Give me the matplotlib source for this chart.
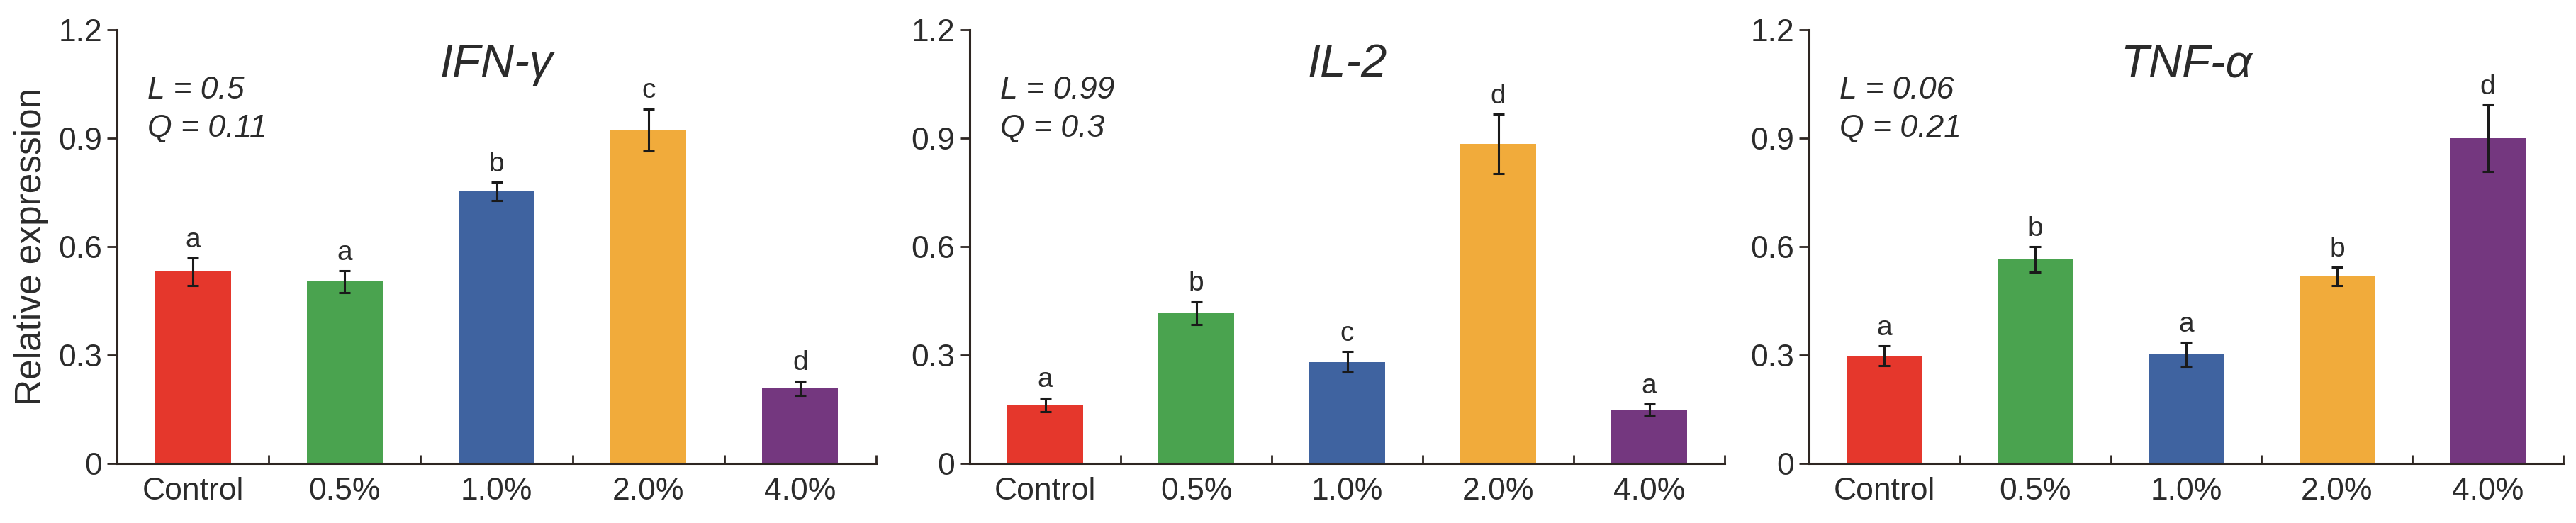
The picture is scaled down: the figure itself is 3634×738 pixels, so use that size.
import numpy as np
import matplotlib.pyplot as plt

plt.rcParams['font.family'] = ['Liberation Sans', 'DejaVu Sans']

groups = ["Control", "0.5%", "1.0%", "2.0%", "4.0%"]
bar_colors = ["#E5372C", "#4AA34F", "#3F63A0", "#F1AB3B", "#74377F"]

# relative expression (mean, error)
ifng_mean = [0.531, 0.503, 0.753, 0.923, 0.208]
ifng_err = [0.038, 0.030, 0.025, 0.058, 0.020]
ifng_letters = ["a", "a", "b", "c", "d"]

il2_mean = [0.162, 0.416, 0.281, 0.884, 0.149]
il2_err = [0.019, 0.032, 0.028, 0.083, 0.016]
il2_letters = ["a", "b", "c", "d", "a"]

tnfa_mean = [0.298, 0.565, 0.302, 0.518, 0.900]
tnfa_err = [0.027, 0.035, 0.033, 0.025, 0.092]
tnfa_letters = ["a", "b", "a", "b", "d"]

genes = ["IFN-γ", "IL-2", "TNF-α"]
l_values = ["0.5", "0.99", "0.06"]
q_values = ["0.11", "0.3", "0.21"]

yticks = [0, 0.3, 0.6, 0.9, 1.2]
ytick_labels = ["0", "0.3", "0.6", "0.9", "1.2"]

means = [ifng_mean, il2_mean, tnfa_mean]
errs = [ifng_err, il2_err, tnfa_err]
letters = [ifng_letters, il2_letters, tnfa_letters]

W, H = 3634, 738
fig = plt.figure(figsize=(W / 100, H / 100), dpi=100)

# axes positions in pixels (left, right)
panels = [(165, 1236), (1368, 2433), (2552, 3616)]
bottom, top = 654, 42

text_color = "#2b2b2b"
axis_color = "#2e2622"
x = np.arange(len(groups))

for i, (x0, x1) in enumerate(panels):
    ax = fig.add_axes([x0 / W, (H - bottom) / H, (x1 - x0) / W, (bottom - top) / H])
    ax.bar(x, means[i], width=0.5, color=bar_colors)
    ax.errorbar(x, means[i], yerr=errs[i], fmt="none", ecolor="#1a1a1a",
                elinewidth=2.2, capsize=6, capthick=2.2)
    for xi, m, e, lt in zip(x, means[i], errs[i], letters[i]):
        ax.text(xi, m + e + 0.03, lt, ha="center", va="baseline",
                fontsize=28, color=text_color)

    ax.set_xlim(-0.5, 4.5)
    ax.set_ylim(0, 1.2)
    ax.set_yticks(yticks)
    ax.set_yticklabels(ytick_labels)
    ax.set_xticks(x)
    ax.set_xticklabels(groups)
    ax.set_xticks(np.arange(0.5, 5, 1), minor=True)
    ax.tick_params(axis="x", which="major", length=0, pad=14,
                   labelsize=32, labelcolor=text_color)
    ax.tick_params(axis="x", which="minor", direction="in", length=9,
                   width=2, color=axis_color)
    ax.tick_params(axis="y", direction="out", length=10, width=2,
                   color=axis_color, labelsize=32, labelcolor=text_color, pad=5)

    for s in ["top", "right"]:
        ax.spines[s].set_visible(False)
    for s in ["left", "bottom"]:
        ax.spines[s].set_linewidth(2.2)
        ax.spines[s].set_color(axis_color)

    ax.text(2.0, 1.07, genes[i], ha="center", va="baseline", fontsize=47,
            style="italic", color=text_color)
    ax.text(0.04, 1.01, "L = " + l_values[i], transform=ax.get_yaxis_transform(),
            ha="left", va="baseline", fontsize=32, style="italic", color=text_color)
    ax.text(0.04, 0.904, "Q = " + q_values[i], transform=ax.get_yaxis_transform(),
            ha="left", va="baseline", fontsize=32, style="italic", color=text_color)

    if i == 0:
        ax.set_ylabel("Relative expression", fontsize=37, color=text_color)
        ax.yaxis.set_label_coords(-0.09, 0.5)

fig.savefig("out.png", dpi=100)
